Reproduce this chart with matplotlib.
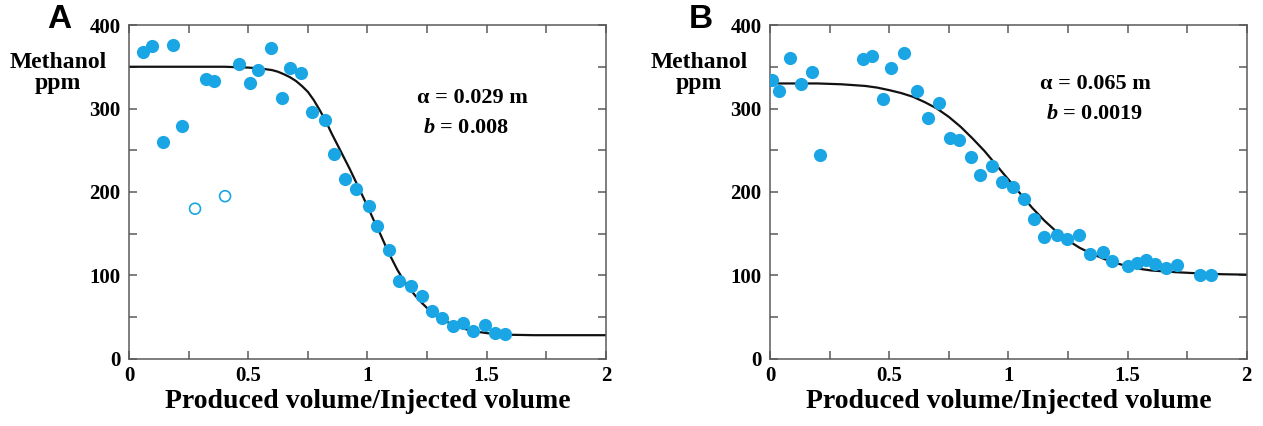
import matplotlib.pyplot as plt
from matplotlib.ticker import MultipleLocator, FuncFormatter

plt.rcParams['font.family'] = 'Liberation Serif'
plt.rcParams['font.weight'] = 'bold'
plt.rcParams['axes.labelweight'] = 'bold'
plt.rcParams['mathtext.fontset'] = 'custom'
plt.rcParams['mathtext.rm'] = 'Liberation Serif:bold'
plt.rcParams['mathtext.bfit'] = 'Liberation Serif:italic:bold'

# panel A - measured methanol (filled) and excluded points (open)
a_x = [0.057, 0.096, 0.144, 0.186, 0.222, 0.323, 0.358, 0.46, 0.507, 0.54,
       0.594, 0.64, 0.675, 0.721, 0.766, 0.822, 0.858, 0.905, 0.953, 1.005,
       1.042, 1.09, 1.134, 1.181, 1.227, 1.269, 1.311, 1.357, 1.402, 1.444,
       1.494, 1.535, 1.578]
a_y = [368, 375, 260, 376, 279, 335, 333, 353, 330, 346,
       372, 312, 348, 342, 296, 286, 246, 215, 203, 183,
       159, 131, 94, 87, 75, 58, 49, 39, 43, 34,
       41, 31, 30]
a_open_x = [0.277, 0.403]
a_open_y = [180, 195]

# panel A - fitted curve
a_fit_x = [0, 0.2, 0.4, 0.5, 0.55, 0.6, 0.625, 0.65, 0.675, 0.7, 0.725,
           0.75, 0.775, 0.8, 0.825, 0.85, 0.875, 0.9, 0.925, 0.95, 0.975,
           1.0, 1.025, 1.05, 1.075, 1.1, 1.125, 1.15, 1.175, 1.2, 1.225,
           1.25, 1.275, 1.3, 1.35, 1.4, 1.45, 1.5, 1.55, 1.6, 1.7, 1.8, 2.0]
a_fit_y = [350, 350, 350, 349, 348, 346, 344, 341, 337.5, 333, 327,
           320, 310, 298, 285, 270, 256, 242, 228, 213, 198,
           183, 167, 152, 136, 121, 107, 95, 85, 76, 68,
           61, 55, 50, 42, 36.5, 33, 31, 29.7, 29, 28.5, 28.5, 28.5]

# panel B
b_x = [0.007, 0.039, 0.084, 0.129, 0.175, 0.21, 0.389, 0.429, 0.473, 0.507,
       0.56, 0.618, 0.664, 0.709, 0.755, 0.793, 0.842, 0.881, 0.93, 0.972,
       1.02, 1.066, 1.109, 1.15, 1.203, 1.245, 1.298, 1.343, 1.396, 1.434,
       1.504, 1.541, 1.576, 1.615, 1.66, 1.706, 1.804, 1.85]
b_y = [334, 321, 361, 329, 344, 244, 359, 363, 311, 349,
       367, 321, 289, 307, 265, 262, 242, 220, 231, 212,
       206, 192, 168, 146, 148, 144, 148, 126, 128, 117,
       111, 115, 118, 114, 109, 113, 101, 101]

b_fit_x = [0, 0.2, 0.3, 0.4, 0.45, 0.5, 0.55, 0.6, 0.65, 0.7, 0.75, 0.8,
           0.85, 0.9, 0.95, 1.0, 1.05, 1.1, 1.15, 1.2, 1.25, 1.3, 1.35, 1.4,
           1.45, 1.5, 1.55, 1.6, 1.7, 1.8, 1.9, 2.0]
b_fit_y = [330, 330, 329, 327, 325, 322, 318.5, 314, 307.5, 300, 290, 278,
           264, 249, 232, 215, 198, 181, 166, 153, 142, 133, 126, 120,
           115, 111, 108, 106, 104, 102.5, 101.5, 101]

DOT = '#1AA6E4'
SPINE = '#5a5a5a'


def style_axes(ax):
    ax.set_xlim(0, 2)
    ax.set_ylim(0, 400)
    ax.xaxis.set_major_locator(MultipleLocator(0.5))
    ax.xaxis.set_minor_locator(MultipleLocator(0.25))
    ax.yaxis.set_major_locator(MultipleLocator(100))
    ax.yaxis.set_minor_locator(MultipleLocator(50))
    ax.xaxis.set_major_formatter(FuncFormatter(lambda v, p: '%g' % v))
    ax.tick_params(which='both', direction='in', top=True, right=True,
                   length=6, width=1.1, color=SPINE, labelsize=15)
    ax.tick_params(axis='x', pad=5)
    ax.tick_params(axis='y', pad=6)
    for s in ax.spines.values():
        s.set_color(SPINE)
        s.set_linewidth(1.1)
    ax.set_xlabel('Produced volume/Injected volume', fontsize=20,
                  fontweight='bold', labelpad=2)
    ax.text(-0.149, 0.856, 'Methanol\nppm', transform=ax.transAxes,
            ha='center', va='center', fontsize=17, linespacing=1.05)


def plot_panel(ax, x, y, fit_x, fit_y, alpha_txt, b_txt, tx, ty):
    ax.plot(fit_x, fit_y, color='#111111', lw=1.6, zorder=2)
    ax.scatter(x, y, s=90, color=DOT, linewidths=0, zorder=3)
    ax.text(tx, ty, alpha_txt, fontsize=16, ha='left', va='center')
    ax.text(tx + 0.025, ty - 36, r'$\mathbfit{b}$ = ' + b_txt, fontsize=16,
            ha='left', va='center')
    style_axes(ax)


fig = plt.figure(figsize=(12.63, 4.26), dpi=100)
ax_a = fig.add_axes([0.1021, 0.1573, 0.3777, 0.784])
ax_b = fig.add_axes([0.6097, 0.1573, 0.3774, 0.784])

plot_panel(ax_a, a_x, a_y, a_fit_x, a_fit_y, 'α = 0.029 m', '0.008', 1.208, 313)
ax_a.scatter(a_open_x, a_open_y, s=62, facecolors='none', edgecolors=DOT,
             linewidths=1.2, zorder=3)
plot_panel(ax_b, b_x, b_y, b_fit_x, b_fit_y, 'α = 0.065 m', '0.0019', 1.133, 329)

fig.text(0.0471, 0.954, 'A', family='Liberation Sans', fontsize=24,
         weight='bold', ha='center', va='center')
fig.text(0.5545, 0.954, 'B', family='Liberation Sans', fontsize=24,
         weight='bold', ha='center', va='center')

fig.savefig('out.png', dpi=100)
